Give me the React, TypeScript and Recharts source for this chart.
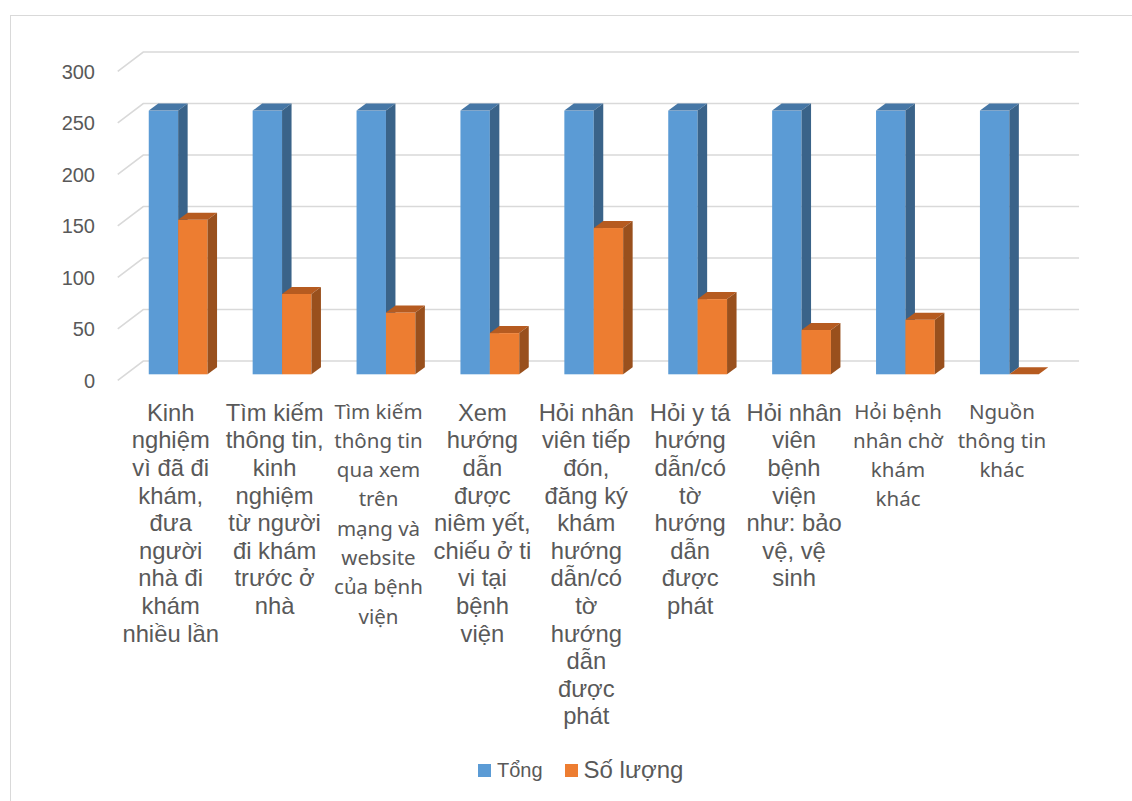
import React from "react";
import { BarChart, Bar, XAxis, YAxis, CartesianGrid, Legend } from "recharts";

// category labels, line breaks as in the original
const CATEGORIES = [
  "Kinh\nnghiệm\nvì đã đi\nkhám,\nđưa\nngười\nnhà đi\nkhám\nnhiều lần",
  "Tìm kiếm\nthông tin,\nkinh\nnghiệm\ntừ người\nđi khám\ntrước ở\nnhà",
  "Tìm kiếm\nthông tin\nqua xem\ntrên\nmạng và\nwebsite\ncủa bệnh\nviện",
  "Xem\nhướng\ndẫn\nđược\nniêm yết,\nchiếu ở ti\nvi tại\nbệnh\nviện",
  "Hỏi nhân\nviên tiếp\nđón,\nđăng ký\nkhám\nhướng\ndẫn/có\ntờ\nhướng\ndẫn\nđược\nphát",
  "Hỏi y tá\nhướng\ndẫn/có\ntờ\nhướng\ndẫn\nđược\nphát",
  "Hỏi nhân\nviên\nbệnh\nviện\nnhư: bảo\nvệ, vệ\nsinh",
  "Hỏi bệnh\nnhân chờ\nkhám\nkhác",
  "Nguồn\nthông tin\nkhác",
];

// labels typed in the second (narrower) font in the source
const ALT_FONT_LABELS = [2, 7, 8];

const TONG = [256, 256, 256, 256, 256, 256, 256, 256, 256];
const SO_LUONG = [150, 78, 60, 40, 142, 73, 43, 53, 0];

const Y_TICKS = [0, 50, 100, 150, 200, 250, 300];

const SERIES_ORDER = ["tong", "soLuong"];

const data = CATEGORIES.map((name, i) => ({
  name,
  tong: TONG[i],
  soLuong: SO_LUONG[i],
}));

const DX = 9.5;
const DY = 7;
const TEXT = "#595959";
const ARIAL = '"Liberation Sans", Arial, sans-serif';
const CALIBRI = '"Noto Sans", "Open Sans", sans-serif';

const makeBox = (front: string, top: string, side: string) => (props: any) => {
  const { x, y, width: w, height: h } = props;
  if (x == null || y == null) return <g />;
  return (
    <g>
      <rect x={x} y={y} width={w} height={Math.max(h, 0)} fill={front} />
      <polygon
        points={`${x},${y} ${x + DX},${y - DY} ${x + w + DX},${y - DY} ${x + w},${y}`}
        fill={top}
      />
      <polygon
        points={`${x + w},${y} ${x + w + DX},${y - DY} ${x + w + DX},${y + h - DY} ${x + w},${y + h}`}
        fill={side}
      />
    </g>
  );
};

const blueBox = makeBox("#5b9bd5", "#4677a6", "#3a6389");
const orangeBox = makeBox("#ed7d31", "#b65b20", "#99501d");

const GridLine = (props: any) => {
  const { x1, x2, y1, key } = props;
  return (
    <path
      key={key}
      d={`M${x1 - 8},${y1 + 6} L${x1 + 17.5},${y1 - 13.3} L${x2 + 18.2},${y1 - 13.3}`}
      stroke="#d9d9d9"
      strokeWidth={1.6}
      fill="none"
    />
  );
};

const YTick = (props: any) => {
  const { y, payload } = props;
  return (
    <text
      x={95}
      y={y + 6.3}
      textAnchor="end"
      dominantBaseline="central"
      fontFamily={ARIAL}
      fontSize={20}
      fill={TEXT}
    >
      {payload.value}
    </text>
  );
};

const XTick = (props: any) => {
  const { x, y, payload, index } = props;
  const lines = String(payload.value).split("\n");
  const alt = ALT_FONT_LABELS.includes(index);
  const lh = alt ? 29.3 : 27.6;
  const first = alt ? 36.2 : 37.4;
  return (
    <text
      x={x - 7}
      y={y + first}
      textAnchor="middle"
      dominantBaseline="central"
      fontFamily={alt ? CALIBRI : ARIAL}
      fontSize={alt ? 20.5 : 23.8}
      fill={TEXT}
    >
      {lines.map((l, i) => (
        <tspan key={i} x={x - 7} y={y + first + i * lh}>
          {l}
        </tspan>
      ))}
    </text>
  );
};

const LEGEND_SIZES: Record<string, number> = { tong: 20, soLuong: 24 };

const LegendContent = (props: any) => {
  const items = [...(props.payload || [])].sort(
    (a: any, b: any) => SERIES_ORDER.indexOf(a.dataKey) - SERIES_ORDER.indexOf(b.dataKey)
  );
  return (
    <div style={{ display: "flex", alignItems: "center", height: 30 }}>
      {items.map((p: any, i: number) => (
        <div
          key={p.dataKey}
          style={{ display: "flex", alignItems: "center", marginLeft: i === 0 ? 0 : 22 }}
        >
          <div style={{ width: 13, height: 13, background: p.color, marginRight: 6 }} />
          <span
            style={{
              fontFamily: ARIAL,
              fontSize: LEGEND_SIZES[p.dataKey] ?? 20,
              color: TEXT,
              whiteSpace: "nowrap",
            }}
          >
            {p.value}
          </span>
        </div>
      ))}
    </div>
  );
};

export default function App() {
  return (
    <div
      style={{
        position: "absolute",
        left: 0,
        top: 0,
        width: 1132,
        height: 801,
        background: "#fff",
        overflow: "hidden",
      }}
    >
      <div
        style={{
          position: "absolute",
          left: 10,
          top: 15,
          width: 1130,
          height: 800,
          borderTop: "1px solid #d9d9d9",
          borderLeft: "1px solid #d9d9d9",
        }}
      />
      <div style={{ position: "absolute", left: 0, top: 0 }}>
        <BarChart
          width={1132}
          height={801}
          data={data}
          margin={{ top: 65.3, right: 71.15, left: 0, bottom: 0 }}
          barGap={0}
          barSize={29.4}
        >
          <CartesianGrid vertical={false} horizontal={GridLine} />
          <XAxis
            dataKey="name"
            axisLine={false}
            tickLine={false}
            tickSize={0}
            tickMargin={0}
            height={426.7}
            interval={0}
            tick={XTick}
          />
          <YAxis
            width={125.75}
            domain={[0, 300]}
            ticks={Y_TICKS}
            interval={0}
            axisLine={false}
            tickLine={false}
            tick={YTick}
          />
          <Legend
            verticalAlign="middle"
            layout="horizontal"
            content={LegendContent}
            wrapperStyle={{ left: 478, top: 755, width: 320, height: 30 }}
          />
          <Bar
            dataKey="tong"
            name="Tổng"
            fill="#5b9bd5"
            shape={blueBox}
            isAnimationActive={false}
          />
          <Bar
            dataKey="soLuong"
            name="Số lượng"
            fill="#ed7d31"
            shape={orangeBox}
            isAnimationActive={false}
          />
        </BarChart>
      </div>
    </div>
  );
}
